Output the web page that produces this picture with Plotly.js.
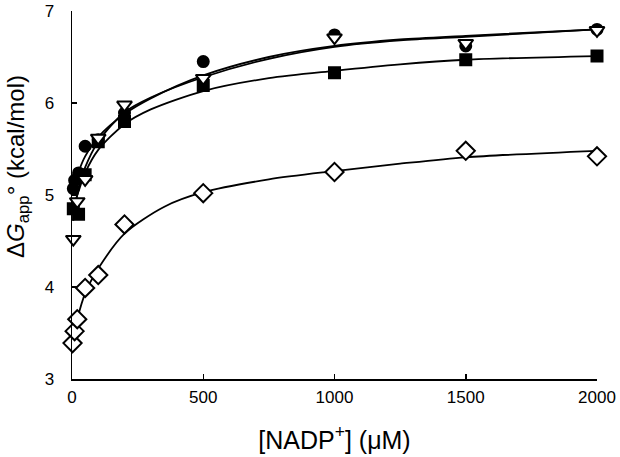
<!DOCTYPE html>
<html>
<head>
<meta charset="utf-8">
<script src="https://cdn.plot.ly/plotly-3.0.1.min.js"></script>
<style>html,body{margin:0;padding:0;background:#fff;}#chart{width:620px;height:457px;}</style>
</head>
<body>
<div id="chart"></div>
<script>
// Data points (NADP+ concentration in µM, ΔG°app in kcal/mol)
const circleX = [5, 10, 25, 50, 100, 200, 500, 1000, 1500, 2000];
const circleY = [5.07, 5.16, 5.24, 5.53, 5.60, 5.89, 6.45, 6.74, 6.62, 6.80];

const triangleX = [5, 20, 50, 100, 200, 500, 1000, 1500, 2000];
const triangleY = [4.52, 4.93, 5.17, 5.62, 5.98, 6.27, 6.71, 6.65, 6.79];

const squareX = [5, 25, 50, 100, 200, 500, 1000, 1500, 2000];
const squareY = [4.85, 4.79, 5.22, 5.58, 5.80, 6.19, 6.33, 6.47, 6.51];

const diamondX = [2, 10, 20, 50, 100, 200, 500, 1000, 1500, 2000];
const diamondY = [3.39, 3.52, 3.65, 3.99, 4.13, 4.68, 5.02, 5.25, 5.48, 5.42];

// Fitted curves
const fitCircleX = [5, 10, 25, 50, 100, 200, 300, 500, 750, 1000, 1250, 1500, 2000];
const fitCircleY = [5.00, 5.10, 5.25, 5.42, 5.63, 5.88, 6.05, 6.30, 6.50, 6.62, 6.69, 6.73, 6.80];

const fitTriangleX = [5, 10, 25, 50, 100, 200, 300, 500, 750, 1000, 1250, 1500, 2000];
const fitTriangleY = [4.72, 4.86, 5.06, 5.30, 5.58, 5.90, 6.06, 6.28, 6.48, 6.61, 6.68, 6.72, 6.80];

const fitSquareX = [5, 10, 25, 50, 100, 200, 300, 500, 750, 1000, 1250, 1500, 2000];
const fitSquareY = [4.82, 4.90, 5.04, 5.24, 5.49, 5.77, 5.93, 6.13, 6.27, 6.35, 6.42, 6.47, 6.51];

const fitDiamondX = [2, 10, 20, 50, 100, 200, 350, 500, 750, 1000, 1250, 1500, 2000];
const fitDiamondY = [3.38, 3.52, 3.65, 3.93, 4.20, 4.58, 4.87, 5.03, 5.17, 5.26, 5.34, 5.41, 5.48];

const xTicks = [0, 500, 1000, 1500, 2000];
const yTicks = [3, 4, 5, 6, 7];

const xTitle = '[NADP<sup>+</sup>] (μM)';
const yTitle = 'Δ<i>G</i><sub>app</sub>° (kcal/mol)';

const lineStyle = {color: '#000', width: 1.8, shape: 'spline', smoothing: 0.8};
function fit(x, y) {
  return {x: x, y: y, mode: 'lines', line: lineStyle, hoverinfo: 'skip', showlegend: false, cliponaxis: false};
}
function pts(x, y, symbol, size, fill) {
  return {x: x, y: y, mode: 'markers', showlegend: false, cliponaxis: false,
    marker: {symbol: symbol, size: size, color: fill, line: {color: '#000', width: 2}}};
}

const data = [
  fit(fitCircleX, fitCircleY),
  fit(fitTriangleX, fitTriangleY),
  fit(fitSquareX, fitSquareY),
  fit(fitDiamondX, fitDiamondY),
  pts(squareX, squareY, 'square', 11, '#000'),
  pts(circleX, circleY, 'circle', 11, '#000'),
  pts(triangleX, triangleY, 'triangle-down', 13, '#fff'),
  pts(diamondX, diamondY, 'diamond', 14, '#fff')
];

const font = {family: '"Liberation Sans", Arial, sans-serif', color: '#000'};

const layout = {
  width: 620, height: 457,
  margin: {l: 72, r: 23, t: 11, b: 78},
  paper_bgcolor: '#fff', plot_bgcolor: '#fff',
  font: font,
  xaxis: {
    range: [0, 2000], tickvals: xTicks, ticktext: xTicks.map(String),
    showgrid: false, zeroline: false, showline: true, linecolor: '#000', linewidth: 1.5,
    ticks: 'inside', ticklen: 5, tickwidth: 1.5, tickcolor: '#000',
    ticklabelstandoff: 2,
    tickfont: {family: font.family, size: 17, color: '#000'},
    title: {text: xTitle, font: {family: font.family, size: 25, color: '#000'}, standoff: 25}
  },
  yaxis: {
    range: [3, 7], tickvals: yTicks, ticktext: yTicks.map(String),
    showgrid: false, zeroline: false, showline: true, linecolor: '#000', linewidth: 1.5,
    ticks: 'inside', ticklen: 5, tickwidth: 1.5, tickcolor: '#000',
    ticklabelstandoff: 13,
    tickfont: {family: font.family, size: 17, color: '#000'}
  },
  annotations: [{
    text: yTitle, textangle: -90, showarrow: false,
    xref: 'paper', yref: 'paper', x: 0, y: 0.5,
    xanchor: 'center', yanchor: 'middle', xshift: -55, yshift: 28,
    font: {family: font.family, size: 24, color: '#000'}
  }]
};

Plotly.newPlot('chart', data, layout, {staticPlot: true, displayModeBar: false});
</script>
</body>
</html>
